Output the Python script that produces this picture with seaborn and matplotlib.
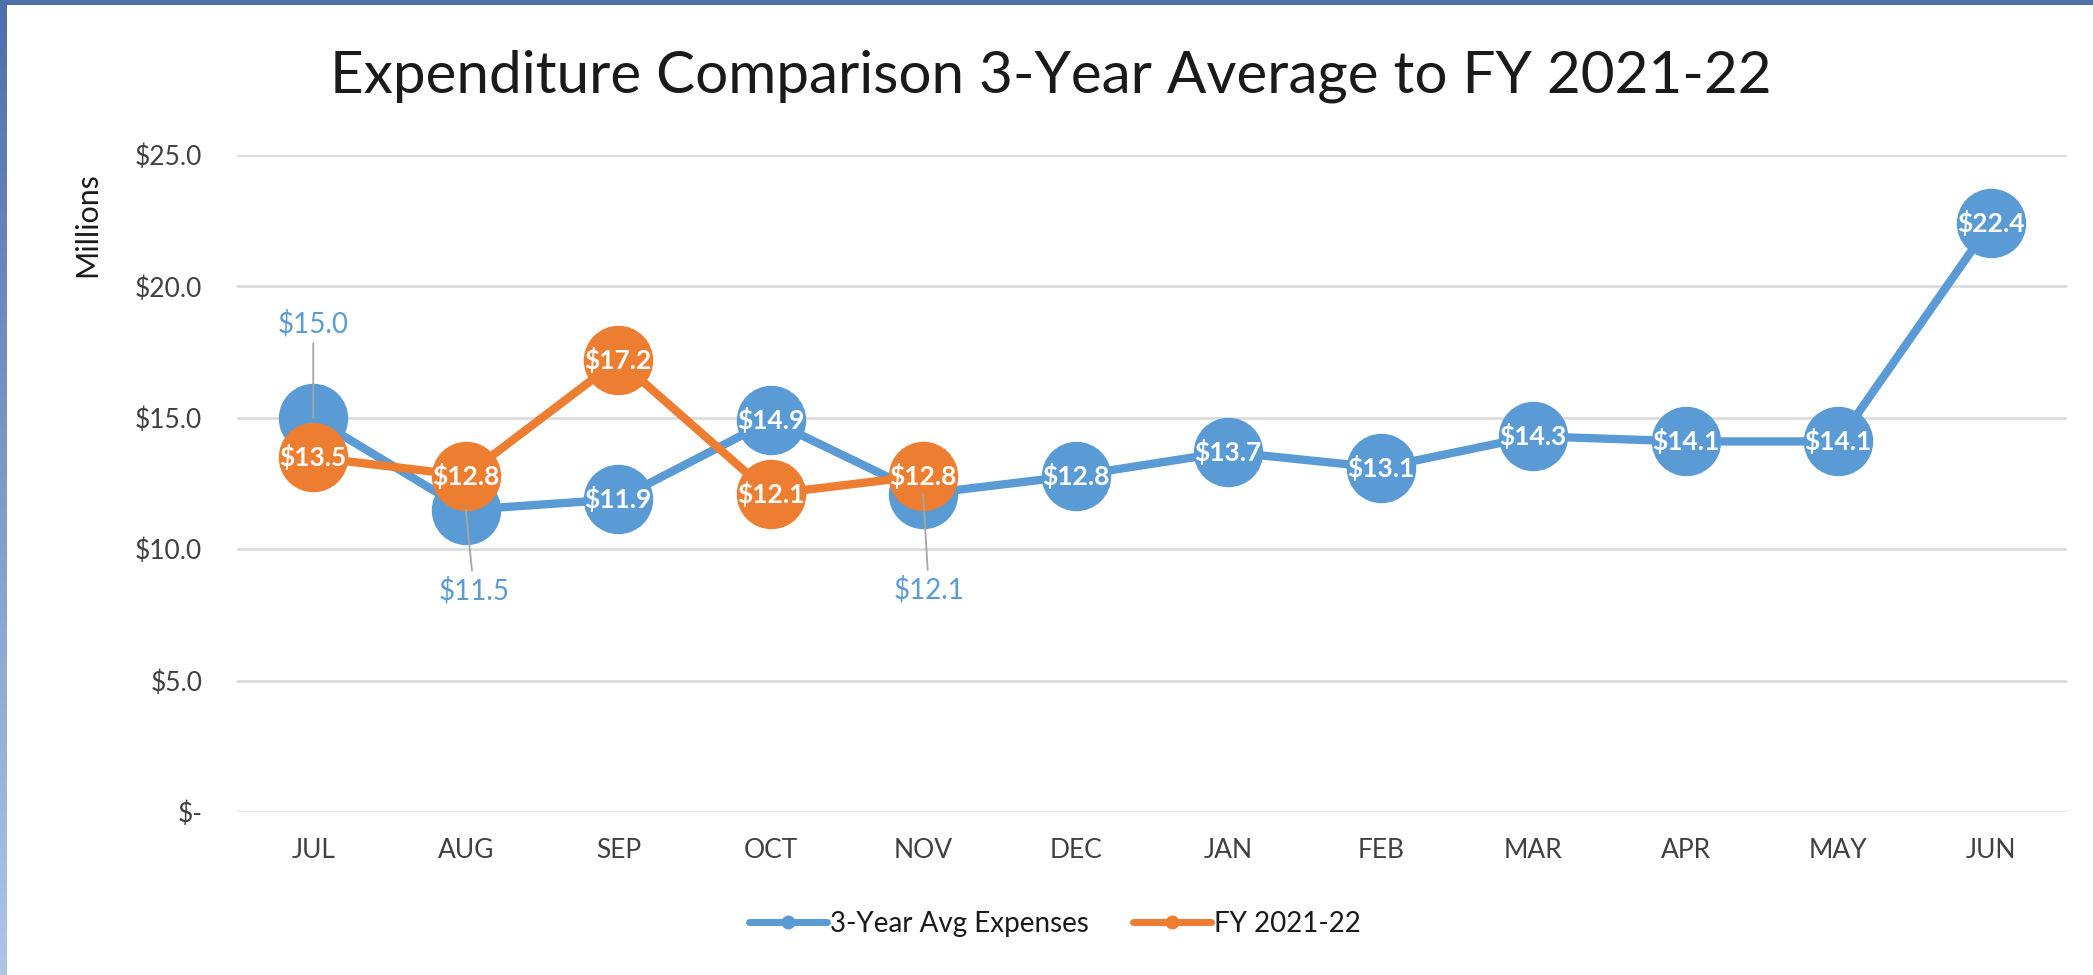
import numpy as np
import pandas as pd
import matplotlib
matplotlib.use('Agg')
import matplotlib.pyplot as plt
from matplotlib.lines import Line2D
import seaborn as sns

# Datos del grafico
months = ['JUL', 'AUG', 'SEP', 'OCT', 'NOV', 'DEC', 'JAN', 'FEB', 'MAR', 'APR', 'MAY', 'JUN']
avg_3yr = [15.0, 11.5, 11.9, 14.9, 12.1, 12.8, 13.7, 13.1, 14.3, 14.1, 14.1, 22.4]
fy_2122 = [13.5, 12.8, 17.2, 12.1, 12.8]
y_ticks = [0, 5, 10, 15, 20, 25]
y_labels = ['$-', '$5.0', '$10.0', '$15.0', '$20.0', '$25.0']

BLUE = '#5B9BD5'
ORANGE = '#ED7D31'
TXT = '#404040'

sns.set_theme(style="white")
plt.rcParams['font.family'] = ['Lato', 'DejaVu Sans']

df_avg = pd.DataFrame({'month': months, 'value': avg_3yr})
df_fy = pd.DataFrame({'month': months[:len(fy_2122)], 'value': fy_2122})

fig = plt.figure(figsize=(20.93, 9.75), dpi=100)
fig.patch.set_facecolor('white')

# marco azul (arriba y degradado a la izquierda)
frame_top = fig.add_axes([0, 1 - 5 / 975, 1, 5 / 975])
frame_top.set_axis_off()
frame_top.add_patch(plt.Rectangle((0, 0), 1, 1, color='#4F6FAB', transform=frame_top.transAxes))
frame_left = fig.add_axes([0, 0, 7 / 2093, 1])
frame_left.imshow(np.linspace(0, 1, 256).reshape(-1, 1), aspect='auto',
                  cmap=matplotlib.colors.LinearSegmentedColormap.from_list('f', ['#4F6FAB', '#AFC5E8']))
frame_left.set_axis_off()

ax = fig.add_axes([237 / 2093, 1 - 812 / 975, 1830 / 2093, 657 / 975])

sns.lineplot(data=df_avg, x='month', y='value', ax=ax, color=BLUE, linewidth=6,
             marker='o', markersize=50, markeredgewidth=0, sort=False, zorder=3)
sns.lineplot(data=df_fy, x='month', y='value', ax=ax, color=ORANGE, linewidth=6,
             marker='o', markersize=50, markeredgewidth=0, sort=False, zorder=4)

ax.set_xlim(-0.5, len(months) - 0.5)
ax.set_ylim(0, 25)
ax.set_yticks(y_ticks)
ax.set_yticklabels(y_labels)
ax.grid(axis='y', color='#D9D9D9', linewidth=1.8)
ax.set_axisbelow(True)
for s in ax.spines.values():
    s.set_visible(False)
ax.tick_params(axis='y', length=0, pad=25, labelsize=19, labelcolor=TXT)
ax.tick_params(axis='x', length=0, pad=19, labelsize=19, labelcolor=TXT)
ax.set_xlabel('')
ax.set_ylabel('')

# etiquetas de datos
outside = {0: (0, 68), 1: (6, -58), 4: (4, -69)}
for i, v in enumerate(avg_3yr):
    if i in outside:
        ax.annotate(f'${v:.1f}', xy=(i, v), xytext=outside[i], textcoords='offset points',
                    ha='center', va='center', fontsize=20, color=BLUE, zorder=10,
                    arrowprops=dict(arrowstyle='-', color='#A6A6A6', lw=1.3,
                                    shrinkA=2, shrinkB=0))
    else:
        ax.text(i, v, f'${v:.1f}', ha='center', va='center', fontsize=19,
                color='white', fontweight='bold', zorder=10)
for i, v in enumerate(fy_2122):
    ax.text(i, v, f'${v:.1f}', ha='center', va='center', fontsize=19,
            color='white', fontweight='bold', zorder=11)

fig.text(0.502, 1 - 76 / 975, 'Expenditure Comparison 3-Year Average to FY 2021-22',
         ha='center', va='center', fontsize=42, color='#1a1a1a')
fig.text(87 / 2093, 1 - 225 / 975, 'Millions', rotation=90, ha='center', va='center',
         fontsize=22, color='#1a1a1a')

handles = [Line2D([0], [0], color=BLUE, lw=5, marker='o', markersize=9),
           Line2D([0], [0], color=ORANGE, lw=5, marker='o', markersize=9)]
fig.legend(handles, ['3-Year Avg Expenses', 'FY 2021-22'], loc='center',
           bbox_to_anchor=(1055 / 2093, 1 - 924 / 975), ncol=2, frameon=False,
           fontsize=20, handlelength=2.8, handletextpad=0.1, columnspacing=1.6,
           labelcolor='#1a1a1a')

fig.savefig('out.png', dpi=100)
